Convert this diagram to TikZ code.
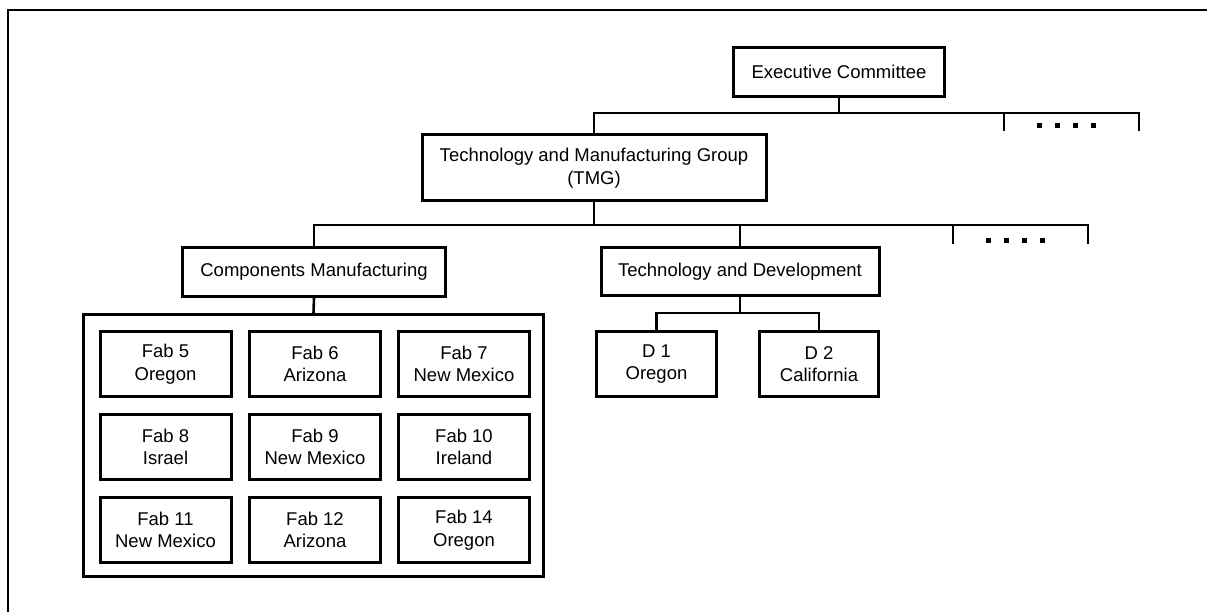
\documentclass[tikz,border=0pt]{standalone}
\usepackage{fontspec}
\setmainfont{Liberation Sans}
\begin{document}
\begin{tikzpicture}[x=1pt,y=-1pt,
  box/.style={draw, line width=3pt, inner sep=0pt, align=center,
    font=\fontsize{18.5}{22.5}\selectfont},
  link/.style={line width=2.6pt},
  dotmark/.style={fill=black}]
\useasboundingbox (0,0) rectangle (1207,612);
% frame (top and left only)
\draw[line width=2.6pt] (1207,10) -- (8,10) -- (8,612);
% top levels
\node[box, minimum width=211pt, minimum height=49pt] (exec) at (839,72) {Executive Committee};
\node[box, minimum width=344pt, minimum height=66pt] (tmg) at (594,168) {Technology and Manufacturing Group\\(TMG)};
\node[box, minimum width=263pt, minimum height=49pt] (cm) at (314,272) {Components Manufacturing};
\node[box, minimum width=278pt, minimum height=48pt] (td) at (740,272) {Technology and Development};
% bars
\coordinate (b1) at (839,113);
\coordinate (b1R) at (1139,113);
\coordinate (t1a) at (1004,131);
\coordinate (t1b) at (1139,131);
\draw[link] (exec.south) -- (b1);
\draw[link] (tmg.north) |- (b1R) -- (t1b);
\draw[link] (t1a) -- (t1a |- b1R);
\foreach \x in {1039,1057,1075,1093} \fill[dotmark] (\x-2.5,123.5) rectangle (\x+2.5,128.5);
\coordinate (b2) at (594,225);
\coordinate (b2R) at (1088,225);
\coordinate (t2a) at (953,244);
\coordinate (t2b) at (1088,244);
\draw[link] (tmg.south) -- (b2);
\draw[link] (cm.north) |- (b2R) -- (t2b);
\draw[link] (td.north) -- (td.north |- b2R);
\draw[link] (t2a) -- (t2a |- b2R);
\foreach \x in {988,1006,1024,1042} \fill[dotmark] (\x-2.5,238.5) rectangle (\x+2.5,243.5);
% components group
\node[box, minimum width=460pt, minimum height=262pt] (grp) at (313.5,445.5) {};
\draw[link] (cm.south) -- (grp.north);
\tikzset{fab/.style={box, minimum width=131pt, minimum height=65pt}}
\node[fab] (f5)  at (165.5,364) {Fab 5\\Oregon};
\node[fab] (f6)  at (315,364) {Fab 6\\Arizona};
\node[fab] (f7)  at (464,364) {Fab 7\\New Mexico};
\node[fab] (f8)  at (165.5,447) {Fab 8\\Israel};
\node[fab] (f9)  at (315,447) {Fab 9\\New Mexico};
\node[fab] (f10) at (464,447) {Fab 10\\Ireland};
\node[fab] (f11) at (165.5,530) {Fab 11\\New Mexico};
\node[fab] (f12) at (315,530) {Fab 12\\Arizona};
\node[fab] (f14) at (464,530) {Fab 14\\Oregon};
% development
\node[fab, minimum width=120pt] (d1) at (656.5,364) {D 1\\Oregon};
\node[fab, minimum width=119pt] (d2) at (819,364) {D 2\\California};
\coordinate (b3) at (740,313);
\draw[link] (td.south) -- (b3);
\draw[link] (d1.north) |- (b3) -| (d2.north);
\end{tikzpicture}
\end{document}
